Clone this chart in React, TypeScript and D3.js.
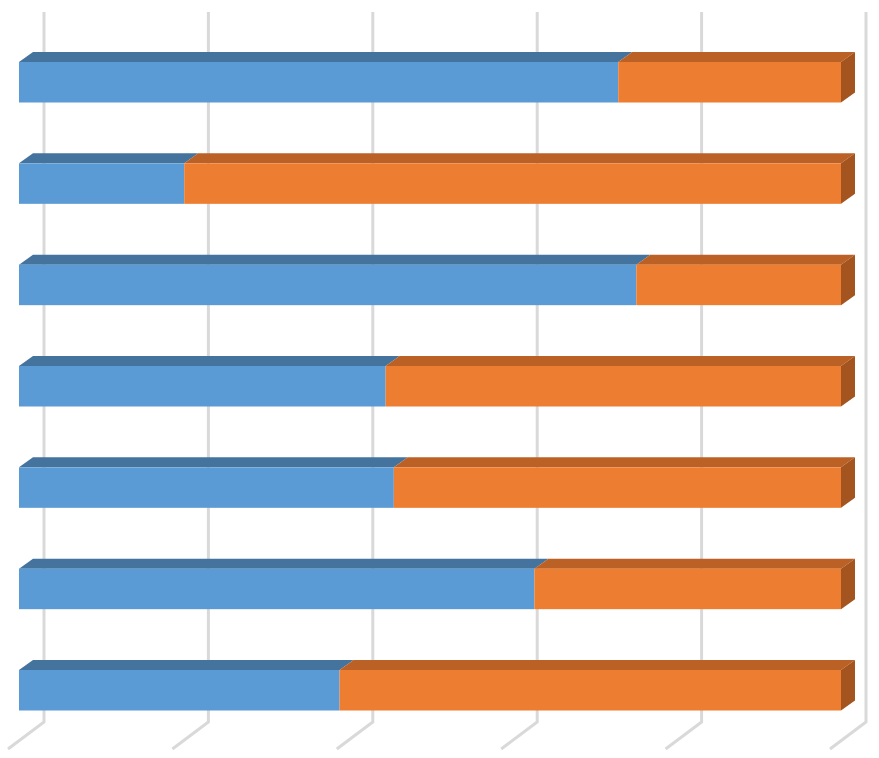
import React from "react";
import * as d3 from "d3";

const categories = ["1", "2", "3", "4", "5", "6", "7"];
const seriesBlue = [72.9, 20.1, 75.1, 44.6, 45.6, 62.7, 39.0];
const seriesOrange = [27.1, 79.9, 24.9, 55.4, 54.4, 37.3, 61.0];
const gridTicks = [0, 20, 40, 60, 80, 100];

const W = 879;
const H = 758;

export default function App() {
  // front face horizontal scale (percent)
  const x = d3.scaleLinear().domain([0, 100]).range([19, 841]);
  // back wall scale for gridlines
  const xWall = d3.scaleLinear().domain([0, 100]).range([44, 866]);
  const y = d3.scalePoint<string>().domain(categories).range([62, 670]);
  const barH = 40.5;
  const dx = 14;
  const dy = -10;
  const wallTop = 12;
  const wallBottom = 722;
  const floorDx = -36;
  const floorDy = 27;

  const colors = {
    blue: { front: "#5B9BD5", top: "#44739E", side: "#3E6A93" },
    orange: { front: "#ED7D31", top: "#BC6125", side: "#A3541F" },
  };

  const poly = (pts: [number, number][]) => pts.map((p) => p.join(",")).join(" ");

  return (
    <svg
      width={W}
      height={H}
      style={{ position: "absolute", left: 0, top: 0, background: "#fff" }}
    >
      <g>
        {gridTicks.map((t) => {
          const gx = xWall(t);
          return (
            <polyline
              key={t}
              points={poly([
                [gx, wallTop],
                [gx, wallBottom],
                [gx + floorDx, wallBottom + floorDy],
              ])}
              fill="none"
              stroke="#D9D9D9"
              strokeWidth={3}
            />
          );
        })}
      </g>
      <g>
        {categories.map((c, i) => {
          const yt = y(c) as number;
          const b = seriesBlue[i];
          const o = seriesOrange[i];
          const x0 = x(0);
          const x1 = x(b);
          const x2 = x(b + o);
          return (
            <g key={c}>
              <polygon
                points={poly([
                  [x0, yt],
                  [x1, yt],
                  [x1 + dx, yt + dy],
                  [x0 + dx, yt + dy],
                ])}
                fill={colors.blue.top}
              />
              <rect x={x0} y={yt} width={x1 - x0} height={barH} fill={colors.blue.front} />
              <polygon
                points={poly([
                  [x1, yt],
                  [x2, yt],
                  [x2 + dx, yt + dy],
                  [x1 + dx, yt + dy],
                ])}
                fill={colors.orange.top}
              />
              <polygon
                points={poly([
                  [x2, yt],
                  [x2 + dx, yt + dy],
                  [x2 + dx, yt + dy + barH],
                  [x2, yt + barH],
                ])}
                fill={colors.orange.side}
              />
              <rect x={x1} y={yt} width={x2 - x1} height={barH} fill={colors.orange.front} />
            </g>
          );
        })}
      </g>
    </svg>
  );
}
